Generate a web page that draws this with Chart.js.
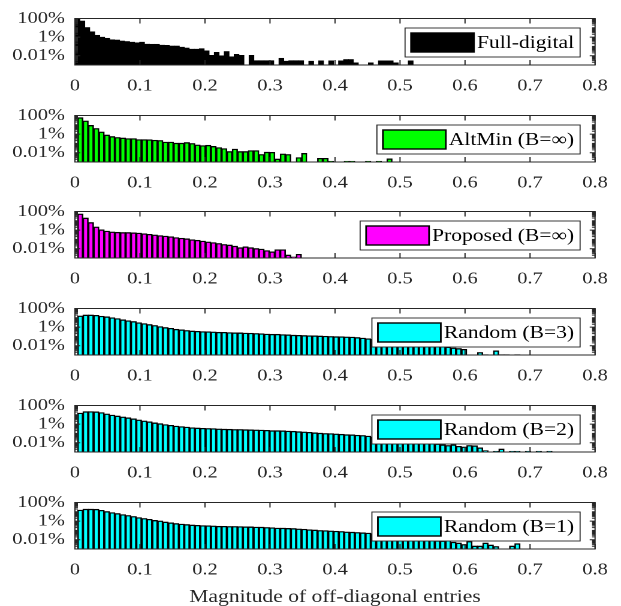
<!DOCTYPE html>
<html>
<head>
<meta charset="utf-8">
<script src="https://cdn.jsdelivr.net/npm/chart.js@4.4.1/dist/chart.umd.min.js"></script>
<style>
  html, body { margin: 0; padding: 0; background: #fff; overflow: hidden; }
  #fig { position: relative; width: 621px; height: 606px; }
  #fig canvas { position: absolute; left: 0; transform-origin: 0 0; transform: scaleX(1.1988); }
</style>
</head>
<body>
<div id="fig"></div>
<script>
// tick values and labels
const xTickVals = [0, 0.1, 0.2, 0.3, 0.4, 0.5, 0.6, 0.7, 0.8];
const xTickLabels = ['0', '0.1', '0.2', '0.3', '0.4', '0.5', '0.6', '0.7', '0.8'];
const yTickVals = [0.01, 1, 100];
const yTickLabels = ['0.01%', '1%', '100%'];

// histogram heights in percent, one entry per bin (null = empty bin)
const fullDigital = [90, 55, 11, 3.8, 1.6, 1.0, 0.75, 0.52, 0.49, 0.39, 0.34, 0.29, 0.25, 0.29, 0.18, 0.17, 0.17, 0.14, 0.13, 0.11,
  0.11, 0.085, 0.069, 0.051, 0.051, 0.059, 0.033, 0.011, 0.023, 0.010, 0.029, 0.0078, 0.014, 0.011, null, 0.011, 0.003, 0.003, 0.003, 0.003,
  null, 0.0054, 0.0026, 0.003, 0.003, 0.003, null, 0.0026, null, 0.0028, null, 0.0028, null, 0.0028, 0.004, 0.004, 0.0017, null, null, 0.0017,
  null, 0.0028, 0.0028, 0.0028, 0.0017, null, null, 0.0028];

const altMin = [59, 26, 8.7, 4.1, 1.7, 0.8, 0.55, 0.44, 0.38, 0.33, 0.33, 0.26, 0.26, 0.25, 0.22, 0.21, 0.14, 0.14, 0.107, 0.107,
  0.125, 0.1, 0.069, 0.059, 0.063, 0.048, 0.036, 0.028, 0.0135, 0.0245, 0.0135, 0.0135, 0.017, 0.017, 0.0065, 0.0115, 0.011, 0.0021, 0.0074, 0.0065,
  null, 0.003, 0.0085, null, null, 0.0025, 0.0025, 0.0012, null, null, 0.0012, 0.0012, null, null, 0.0012, null, 0.0012, null, 0.0022];

const proposed = [55, 20, 6.6, 2.2, 1.07, 0.79, 0.63, 0.59, 0.55, 0.55, 0.51, 0.48, 0.41, 0.35, 0.30, 0.26, 0.23, 0.195, 0.158, 0.135,
  0.117, 0.093, 0.081, 0.066, 0.053, 0.046, 0.037, 0.029, 0.025, 0.019, 0.013, 0.016, 0.013, 0.0105, 0.0091, 0.0063, 0.0046, 0.0078, 0.0078, 0.0021,
  0.0013, 0.0025];

const random3 = [16, 20, 20, 18.5, 15, 13, 10.3, 8.3, 6.2, 4.9, 4.0, 3.0, 2.4, 1.9, 1.5, 1.15, 0.91, 0.74, 0.59, 0.51,
  0.44, 0.38, 0.35, 0.33, 0.32, 0.30, 0.28, 0.275, 0.26, 0.245, 0.24, 0.23, 0.22, 0.21, 0.195, 0.18, 0.17, 0.17, 0.158, 0.148,
  0.137, 0.13, 0.125, 0.12, 0.115, 0.11, 0.105, 0.1, 0.095, 0.093, 0.088, 0.085, 0.076, 0.067, 0.057, 0.048, 0.04, 0.034, 0.029, 0.025,
  0.021, 0.019, 0.017, 0.016, 0.015, 0.013, 0.012, 0.0098, 0.0085, 0.0073, 0.0058, 0.005, 0.0041, null, null, 0.0019, 0.0011, null, 0.0028, 0.0011,
  0.0011, null, 0.0011];

const random2 = [15.5, 22, 22.5, 21, 17.5, 12.5, 9.4, 7.4, 5.9, 4.8, 3.7, 2.8, 2.2, 1.75, 1.35, 1.12, 0.89, 0.74, 0.62, 0.54,
  0.48, 0.41, 0.38, 0.355, 0.34, 0.33, 0.30, 0.29, 0.28, 0.265, 0.265, 0.255, 0.245, 0.235, 0.23, 0.215, 0.2, 0.2, 0.19, 0.18,
  0.17, 0.155, 0.145, 0.13, 0.118, 0.107, 0.1, 0.097, 0.087, 0.081, 0.074, 0.07, 0.064, 0.06, 0.052, 0.042, 0.034, 0.029, 0.025, 0.022,
  0.019, 0.018, 0.0155, 0.013, 0.0115, 0.01, 0.0087, 0.0075, 0.0059, 0.0051, 0.0059, 0.0041, 0.0035, 0.0051, 0.0047, 0.0028, 0.0014, null, 0.0012, 0.0021,
  null, 0.0012, 0.0012, null, 0.0012, null, 0.0012, null, 0.0012];

const random1 = [15.5, 19.5, 19.5, 18.8, 14.5, 10.8, 8.3, 6.6, 5.1, 4.1, 3.2, 2.4, 1.95, 1.55, 1.2, 1.05, 0.8, 0.66, 0.55, 0.48,
  0.43, 0.38, 0.355, 0.33, 0.32, 0.30, 0.28, 0.275, 0.265, 0.265, 0.26, 0.245, 0.24, 0.23, 0.225, 0.21, 0.195, 0.18, 0.175, 0.165,
  0.16, 0.145, 0.135, 0.12, 0.11, 0.1, 0.097, 0.087, 0.082, 0.077, 0.069, 0.065, 0.06, 0.056, 0.052, 0.045, 0.038, 0.035, 0.033, 0.031,
  0.028, 0.026, 0.024, 0.022, 0.021, 0.017, 0.012, 0.0079, 0.0074, 0.0094, 0.0055, 0.0044, 0.0031, 0.0065, 0.0021, 0.0021, 0.0044, 0.0027, 0.0019, null,
  null, 0.0021, 0.0038];

// bin layout: first bin centre and bin width
const panels = [
  { label: 'Full-digital', values: fullDigital, color: '#000000', start: 0.0038, width: 0.00765 },
  { label: 'AltMin (B=\u221e)', values: altMin, color: '#00ff00', start: 0.0082, width: 0.0082 },
  { label: 'Proposed (B=\u221e)', values: proposed, color: '#ff00ff', start: 0.0082, width: 0.0082 },
  { label: 'Random (B=3)', values: random3, color: '#00ffff', start: 0.0082, width: 0.0082 },
  { label: 'Random (B=2)', values: random2, color: '#00ffff', start: 0.0082, width: 0.0082 },
  { label: 'Random (B=1)', values: random1, color: '#00ffff', start: 0.0082, width: 0.0082 }
];

const W = 518;              // drawn width, stretched to 621 by css
const axisColor = '#262626';
const serif = '"Liberation Serif", "Times New Roman", serif';

// legend box in the top right corner, plus the box frame with inward ticks
const framePlugin = {
    id: 'frame',
    afterDatasetsDraw(chart) {
        const { ctx, chartArea: a } = chart;
        const ds = chart.data.datasets[0];
        ctx.save();
        ctx.font = '18px ' + serif;
        const tw = ctx.measureText(ds.label).width;
        const right = a.right - 12.5;
        const top = a.top + 9.5;
        const h = 29;
        const swW = 52.5;
        const swR = right - 5 - tw - 2.5;
        const left = swR - swW - 5;
        ctx.fillStyle = '#fff';
        ctx.fillRect(left, top, right - left, h);
        ctx.lineWidth = 0.9;
        ctx.strokeStyle = axisColor;
        ctx.strokeRect(left, top, right - left, h);
        ctx.fillStyle = ds.backgroundColor;
        ctx.fillRect(swR - swW, top + 5, swW, h - 10);
        ctx.lineWidth = 1.4;
        ctx.strokeStyle = '#000';
        ctx.strokeRect(swR - swW, top + 5, swW, h - 10);
        ctx.fillStyle = '#000';
        ctx.textBaseline = 'middle';
        ctx.fillText(ds.label, swR + 2.5, top + h / 2 + 1);
        ctx.restore();
    },
    afterDraw(chart) {
        const { ctx, chartArea: a, scales } = chart;
        const x = scales.x, y = scales.y;
        ctx.save();
        ctx.strokeStyle = axisColor;
        ctx.lineWidth = 1;
        ctx.strokeRect(a.left, a.top, a.right - a.left, a.bottom - a.top);
        ctx.beginPath();
        xTickVals.forEach(v => {
            const px = x.getPixelForValue(v);
            ctx.moveTo(px, a.bottom); ctx.lineTo(px, a.bottom - 5);
            ctx.moveTo(px, a.top); ctx.lineTo(px, a.top + 5);
        });
        for (let e = -3; e <= 2; e++) {
            for (let m = 1; m <= 9; m++) {
                const v = m * Math.pow(10, e);
                if (v > 100.001) continue;
                const py = y.getPixelForValue(v);
                const len = yTickVals.some(t => Math.abs(t - v) < 1e-9) ? 4.5 : 2.5;
                ctx.moveTo(a.left, py); ctx.lineTo(a.left + len, py);
                ctx.moveTo(a.right, py); ctx.lineTo(a.right - len, py);
            }
        }
        ctx.stroke();
        ctx.restore();
    }
};

const fig = document.getElementById('fig');

panels.forEach((p, i) => {
    const last = i === panels.length - 1;
    const canvasH = last ? 126 : 97;
    const canvas = document.createElement('canvas');
    canvas.width = W;
    canvas.height = canvasH;
    canvas.style.top = (96.7 * i) + 'px';
    fig.appendChild(canvas);

    const points = p.values.map((v, k) => ({ x: p.start + k * p.width, y: v }));

    new Chart(canvas.getContext('2d'), {
        type: 'bar',
        data: {
            datasets: [{
                label: p.label,
                data: points,
                backgroundColor: p.color,
                borderColor: '#000',
                borderWidth: 1.3,
                barPercentage: 1,
                categoryPercentage: 1
            }]
        },
        options: {
            responsive: false,
            animation: false,
            devicePixelRatio: 2,
            layout: { padding: { top: 13, right: 19.2, left: 0, bottom: 0 } },
            plugins: {
                legend: { display: false },
                tooltip: { enabled: false }
            },
            scales: {
                x: {
                    type: 'linear',
                    min: 0,
                    max: 0.8,
                    offset: false,
                    grid: { display: false, drawTicks: false, offset: false },
                    border: { display: false },
                    afterBuildTicks: s => { s.ticks = xTickVals.map(v => ({ value: v })); },
                    afterFit: s => { s.height = canvasH - 13 - 52; },
                    ticks: {
                        autoSkip: false,
                        maxRotation: 0,
                        minRotation: 0,
                        padding: 11,
                        color: axisColor,
                        font: { family: serif, size: 17 },
                        callback: (v, k) => xTickLabels[k]
                    },
                    title: {
                        display: last,
                        text: 'Magnitude of off-diagonal entries',
                        color: axisColor,
                        font: { family: serif, size: 18 },
                        padding: { top: 0, bottom: 2 }
                    }
                },
                y: {
                    type: 'logarithmic',
                    min: 0.001,
                    max: 100,
                    grid: { display: false, drawTicks: false },
                    border: { display: false },
                    afterBuildTicks: s => { s.ticks = yTickVals.map(v => ({ value: v })); },
                    afterFit: s => { s.width = 62.5; },
                    ticks: {
                        autoSkip: false,
                        padding: 8.3,
                        color: axisColor,
                        font: { family: serif, size: 17 },
                        callback: (v, k) => yTickLabels[k]
                    }
                }
            }
        },
        plugins: [framePlugin]
    });
});
</script>
</body>
</html>
